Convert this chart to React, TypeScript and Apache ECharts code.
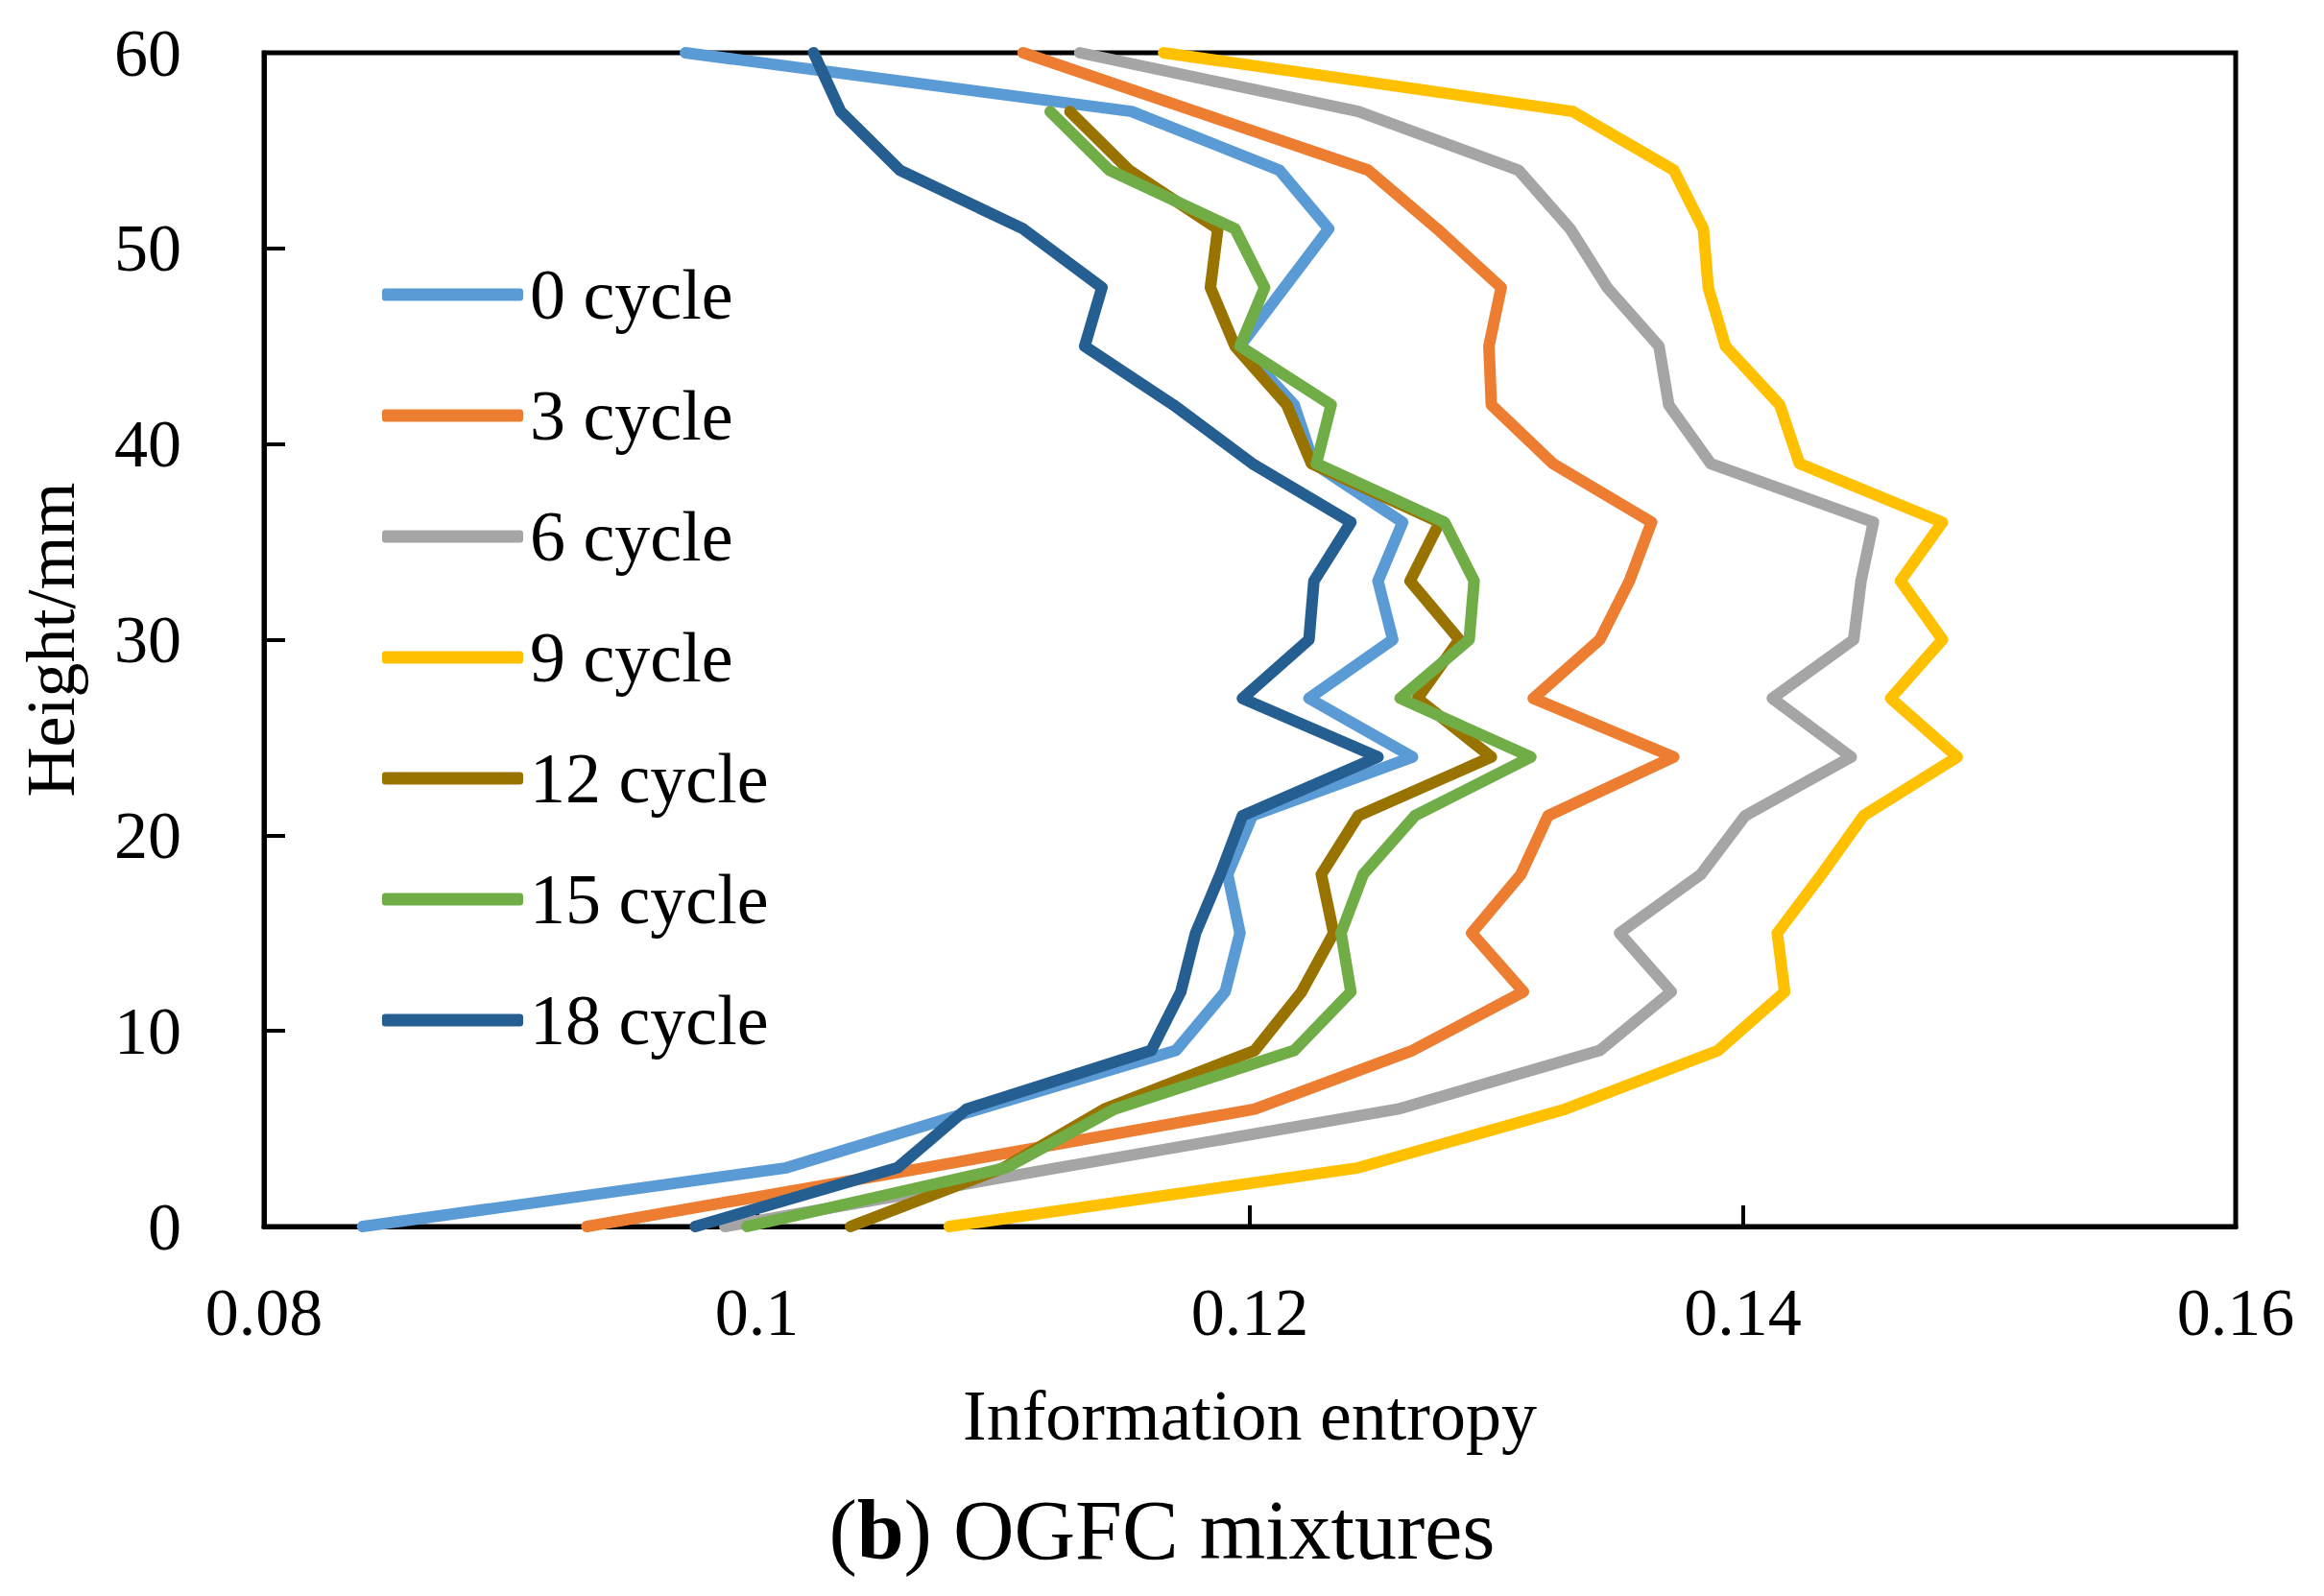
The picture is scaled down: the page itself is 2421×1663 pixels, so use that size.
import React, { useEffect, useRef } from "react";
import * as echarts from "echarts";

const HEIGHTS = [0, 3, 6, 9, 12, 15, 18, 21, 24, 27, 30, 33, 36, 39, 42, 45, 48, 51, 54, 57, 60];

const CYCLE_0 = [0.0840, 0.1012, 0.1090, 0.1170, 0.1190, 0.1196, 0.1191, 0.1201, 0.1266, 0.1224, 0.1258, 0.1252, 0.1262, 0.1226, 0.1218, 0.1196, 0.1214, 0.1232, 0.1212, 0.1152, 0.0971];
const CYCLE_3 = [0.0931, 0.1068, 0.1202, 0.1266, 0.1311, 0.1290, 0.1310, 0.1321, 0.1372, 0.1315, 0.1342, 0.1354, 0.1363, 0.1323, 0.1298, 0.1297, 0.1302, 0.1276, 0.1248, 0.1178, 0.1108];
const CYCLE_6 = [0.0987, 0.1122, 0.1260, 0.1342, 0.1371, 0.1350, 0.1383, 0.1401, 0.1444, 0.1412, 0.1445, 0.1448, 0.1453, 0.1387, 0.1370, 0.1366, 0.1345, 0.1330, 0.1309, 0.1244, 0.1131];
const CYCLE_9 = [0.1078, 0.1244, 0.1328, 0.1390, 0.1417, 0.1414, 0.1432, 0.1449, 0.1487, 0.1460, 0.1481, 0.1464, 0.1481, 0.1423, 0.1415, 0.1393, 0.1386, 0.1384, 0.1372, 0.1331, 0.1165];
const CYCLE_12 = [0.1038, 0.1100, 0.1141, 0.1202, 0.1221, 0.1234, 0.1229, 0.1244, 0.1298, 0.1268, 0.1285, 0.1265, 0.1277, 0.1225, 0.1215, 0.1194, 0.1184, 0.1187, 0.1151, 0.1127];
const CYCLE_15 = [0.0996, 0.1101, 0.1145, 0.1218, 0.1241, 0.1237, 0.1246, 0.1267, 0.1314, 0.1261, 0.1289, 0.1291, 0.1279, 0.1227, 0.1233, 0.1196, 0.1206, 0.1194, 0.1143, 0.1119];
const CYCLE_18 = [0.0975, 0.1057, 0.1085, 0.1160, 0.1172, 0.1178, 0.1188, 0.1197, 0.1252, 0.1197, 0.1224, 0.1226, 0.1241, 0.1201, 0.1169, 0.1133, 0.1140, 0.1108, 0.1058, 0.1034, 0.1023];

const SERIES_NAMES = ["0 cycle", "3 cycle", "6 cycle", "9 cycle", "12 cycle", "15 cycle", "18 cycle"];
const SERIES_VALUES = [CYCLE_0, CYCLE_3, CYCLE_6, CYCLE_9, CYCLE_12, CYCLE_15, CYCLE_18];
const SERIES_COLORS = ["#5B9BD5", "#ED7D31", "#A5A5A5", "#FFC000", "#997300", "#70AD47", "#255E91"];

const FONT = "'Liberation Serif', 'Times New Roman', serif";

export default function App() {
  const ref = useRef<HTMLDivElement | null>(null);

  useEffect(() => {
    document.body.style.margin = "0";
    const chart = echarts.init(ref.current as HTMLDivElement, null, { renderer: "svg" });

    const series = SERIES_NAMES.map((name, i) => ({
      name,
      type: "line",
      data: SERIES_VALUES[i].map((x, j) => [x, HEIGHTS[j]]),
      showSymbol: false,
      symbol: "none",
      clip: false,
      lineStyle: { color: SERIES_COLORS[i], width: 12, cap: "round", join: "round" },
      itemStyle: { color: SERIES_COLORS[i] },
      emphasis: { disabled: true },
    }));

    chart.setOption({
      animation: false,
      backgroundColor: "#ffffff",
      grid: {
        left: 275,
        right: 92,
        top: 55,
        bottom: 385,
        show: true,
        borderColor: "#000000",
        borderWidth: 5,
        backgroundColor: "transparent",
      },
      legend: {
        orient: "vertical",
        left: 393,
        top: 265,
        icon: "roundRect",
        itemWidth: 147,
        itemHeight: 13,
        itemGap: 52,
        data: SERIES_NAMES,
        textStyle: {
          fontFamily: FONT,
          fontSize: 74,
          lineHeight: 72,
          color: "#000000",
          padding: [0, 0, 0, 2],
        },
      },
      xAxis: {
        type: "value",
        min: 0.08,
        max: 0.16,
        interval: 0.02,
        name: "Information entropy",
        nameLocation: "middle",
        nameGap: 160,
        nameTextStyle: { fontFamily: FONT, fontSize: 74, color: "#000000" },
        axisLine: { show: true, lineStyle: { color: "#000000", width: 5 } },
        axisTick: { show: true, inside: true, length: 22, lineStyle: { color: "#000000", width: 4 } },
        axisLabel: { fontFamily: FONT, fontSize: 70, color: "#000000", margin: 54 },
        splitLine: { show: false },
      },
      yAxis: {
        type: "value",
        min: 0,
        max: 60,
        interval: 10,
        name: "Height/mm",
        nameLocation: "middle",
        nameRotate: 90,
        nameGap: 186,
        nameTextStyle: { fontFamily: FONT, fontSize: 72, color: "#000000" },
        axisLine: { show: true, lineStyle: { color: "#000000", width: 5 } },
        axisTick: { show: true, inside: true, length: 22, lineStyle: { color: "#000000", width: 4 } },
        axisLabel: { fontFamily: FONT, fontSize: 70, color: "#000000", margin: 86 },
        splitLine: { show: false },
      },
      graphic: [
        {
          type: "text",
          left: "center",
          top: 1550,
          style: {
            text: "({b|b}) OGFC mixtures",
            fontFamily: FONT,
            fontSize: 88,
            fill: "#000000",
            rich: {
              b: { fontFamily: FONT, fontSize: 88, fontWeight: "bold", fill: "#000000" },
            },
          },
        },
      ],
      series,
    });

    return () => {
      chart.dispose();
    };
  }, []);

  return (
    <div
      ref={ref}
      style={{ position: "fixed", left: 0, top: 0, width: 2421, height: 1663, background: "#ffffff" }}
    />
  );
}
